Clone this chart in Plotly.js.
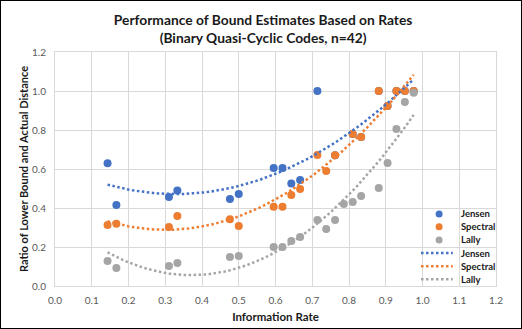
<!DOCTYPE html>
<html>
<head>
<meta charset="utf-8">
<script src="https://cdn.plot.ly/plotly-3.0.1.min.js"></script>
<style>
  body { margin: 0; background: #fff; }
  #chart { width: 522px; height: 329px; border: 1px solid #000; box-sizing: border-box; }
</style>
</head>
<body>
<div id="chart"></div>
<script>
// series names and colours
var seriesNames = ["Jensen", "Spectral", "Lally"];
var seriesColors = ["#4472C4", "#ED7D31", "#A5A5A5"];

// information rate (k/42) and ratio values
var jensenRate = [0.143, 0.167, 0.310, 0.333, 0.476, 0.500, 0.595, 0.619, 0.643, 0.667, 0.714,
                  0.762, 0.810, 0.833, 0.881, 0.905, 0.929, 0.952, 0.976];
var jensenRatio = [0.63, 0.415, 0.456, 0.49, 0.446, 0.472, 0.605, 0.605, 0.526, 0.544, 1.0,
                   0.67, 0.779, 0.764, 1.0, 0.923, 1.0, 1.0, 1.0];

var spectralRate = [0.143, 0.167, 0.310, 0.333, 0.476, 0.500, 0.595, 0.619, 0.643, 0.667, 0.714,
                    0.738, 0.762, 0.810, 0.833, 0.881, 0.905, 0.929, 0.952, 0.976];
var spectralRatio = [0.313, 0.319, 0.303, 0.359, 0.342, 0.308, 0.407, 0.407, 0.467, 0.497, 0.672,
                     0.59, 0.67, 0.779, 0.764, 1.0, 0.923, 1.0, 1.0, 1.0];

var lallyRate = [0.143, 0.167, 0.310, 0.333, 0.476, 0.500, 0.595, 0.619, 0.643, 0.667, 0.714,
                 0.738, 0.762, 0.786, 0.810, 0.833, 0.881, 0.905, 0.929, 0.952, 0.976];
var lallyRatio = [0.128, 0.092, 0.103, 0.118, 0.149, 0.154, 0.2, 0.2, 0.231, 0.251, 0.338,
                  0.292, 0.338, 0.42, 0.431, 0.462, 0.503, 0.631, 0.805, 0.944, 0.991];

var xTicks = [0.0, 0.1, 0.2, 0.3, 0.4, 0.5, 0.6, 0.7, 0.8, 0.9, 1.0, 1.1, 1.2];
var yTicks = [0.0, 0.2, 0.4, 0.6, 0.8, 1.0, 1.2];

var allRates = [jensenRate, spectralRate, lallyRate];
var allRatios = [jensenRatio, spectralRatio, lallyRatio];

// 2nd order polynomial trendline (least squares), like Excel
function quadFit(xs, ys) {
  var s = [0, 0, 0, 0, 0], t = [0, 0, 0];
  for (var i = 0; i < xs.length; i++) {
    var p = 1;
    for (var k = 0; k < 5; k++) { s[k] += p; if (k < 3) t[k] += p * ys[i]; p *= xs[i]; }
  }
  var m = [[s[0], s[1], s[2]], [s[1], s[2], s[3]], [s[2], s[3], s[4]]];
  function det(a) {
    return a[0][0] * (a[1][1] * a[2][2] - a[1][2] * a[2][1])
         - a[0][1] * (a[1][0] * a[2][2] - a[1][2] * a[2][0])
         + a[0][2] * (a[1][0] * a[2][1] - a[1][1] * a[2][0]);
  }
  var d = det(m), c = [];
  for (var j = 0; j < 3; j++) {
    var mj = m.map(function (row, r) { return row.map(function (v, col) { return col === j ? t[r] : v; }); });
    c.push(det(mj) / d);
  }
  return c;
}

var traces = [];
for (var i = 0; i < 3; i++) {
  traces.push({
    x: allRates[i], y: allRatios[i], name: seriesNames[i],
    type: "scatter", mode: "markers",
    marker: { color: seriesColors[i], size: 8 },
    showlegend: false
  });
}
for (var i = 0; i < 3; i++) {
  var c = quadFit(allRates[i], allRatios[i]);
  var lo = Math.min.apply(null, allRates[i]), hi = Math.max.apply(null, allRates[i]);
  var tx = [], ty = [];
  for (var n = 0; n <= 60; n++) {
    var xv = lo + (hi - lo) * n / 60;
    tx.push(xv);
    ty.push(c[0] + c[1] * xv + c[2] * xv * xv);
  }
  traces.push({
    x: tx, y: ty, name: seriesNames[i],
    type: "scatter", mode: "lines",
    line: { color: seriesColors[i], width: 2.5, dash: "2.5px,2.5px" },
    showlegend: false, hoverinfo: "skip"
  });
}

// legend drawn inside the plot, Excel style
var legendY = [0.308, 0.253, 0.197, 0.141, 0.084, 0.029];
var shapes = [], annotations = [];
for (var i = 0; i < 6; i++) {
  var s = i % 3;
  if (i < 3) {
    shapes.push({
      type: "circle", xref: "paper", yref: "paper", xsizemode: "pixel", ysizemode: "pixel",
      xanchor: 0.871, yanchor: legendY[i], x0: -3.5, x1: 3.5, y0: -3.5, y1: 3.5,
      fillcolor: seriesColors[s], line: { width: 0 }
    });
  } else {
    shapes.push({
      type: "line", xref: "paper", yref: "paper",
      x0: 0.83, x1: 0.902, y0: legendY[i], y1: legendY[i],
      line: { color: seriesColors[s], width: 2.5, dash: "2.5px,2.5px" }
    });
  }
  annotations.push({
    xref: "paper", yref: "paper", x: 0.915, y: legendY[i],
    xanchor: "left", yanchor: "middle", showarrow: false,
    text: seriesNames[s],
    font: { size: 9.5, color: "#1a1a1a", weight: "bold" }
  });
}

var layout = {
  width: 520, height: 327,
  margin: { l: 54, r: 25, t: 51, b: 42 },
  paper_bgcolor: "#fff", plot_bgcolor: "#fff",
  font: { family: "Lato, 'Open Sans', sans-serif", color: "#595959", size: 10 },
  title: {
    text: "Performance of Bound Estimates Based on Rates<br>(Binary Quasi-Cyclic Codes, n=42)",
    x: 0.504, xanchor: "center", y: 0.926, yanchor: "top",
    font: { size: 13.8, color: "#1a1a1a", weight: "bold" }
  },
  xaxis: {
    range: [0, 1.2], tickvals: xTicks, ticktext: xTicks.map(function (v) { return v.toFixed(1); }),
    showgrid: true, gridcolor: "#d9d9d9", zeroline: false,
    showline: true, linecolor: "#d9d9d9", mirror: true,
    ticks: "outside", ticklen: 5, tickcolor: "rgba(0,0,0,0)",
    title: { text: "Information Rate", font: { size: 11.5, color: "#1a1a1a", weight: "bold" }, standoff: 7 }
  },
  yaxis: {
    range: [0, 1.2], tickvals: yTicks, ticktext: yTicks.map(function (v) { return v.toFixed(1); }),
    showgrid: true, gridcolor: "#d9d9d9", zeroline: false,
    showline: true, linecolor: "#d9d9d9", mirror: true,
    ticks: "outside", ticklen: 6, tickcolor: "rgba(0,0,0,0)",
    title: { text: "Ratio of Lower Bound and Actual Distance", font: { size: 11, color: "#1a1a1a", weight: "bold" }, standoff: 1 }
  },
  shapes: shapes,
  annotations: annotations,
  showlegend: false
};

Plotly.newPlot("chart", traces, layout, { displayModeBar: false, staticPlot: true });
</script>
</body>
</html>
